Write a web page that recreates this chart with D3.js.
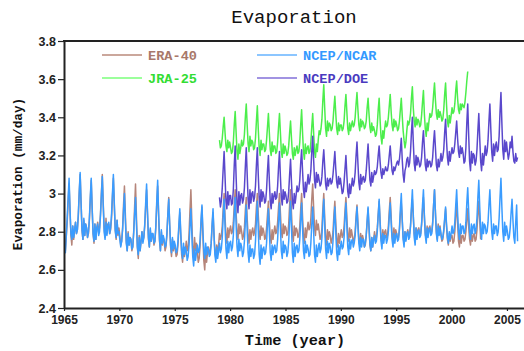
<!DOCTYPE html>
<html>
<head>
<meta charset="utf-8">
<script src="https://cdn.jsdelivr.net/npm/d3@7"></script>
<style>
  html, body { margin: 0; padding: 0; background: #fff; }
  svg { display: block; }
</style>
</head>
<body>
<div id="chart"></div>
<script>
// ---------------- DATA (monthly global-mean evaporation, mm/day) ----------------
const xTicks = [1965, 1970, 1975, 1980, 1985, 1990, 1995, 2000, 2005];
const yTicks = [2.4, 2.6, 2.8, 3.0, 3.2, 3.4, 3.6, 3.8];
const seriesNames = ["ERA-40", "NCEP/NCAR", "JRA-25", "NCEP/DOE"];
const seriesStart = [1965, 1965, 1979, 1979];   // first year (January)

const era40 = [
2.74,2.70,2.78,2.85,2.96,3.05,2.91,2.78,2.73,2.83,2.76,2.81,
2.85,2.79,2.81,2.88,3.00,3.10,2.95,2.81,2.76,2.86,2.78,2.84,
2.82,2.77,2.79,2.86,2.97,3.07,2.92,2.79,2.74,2.84,2.76,2.82,
2.85,2.80,2.82,2.89,3.00,3.10,2.95,2.82,2.77,2.87,2.79,2.84,
2.84,2.79,2.81,2.87,2.98,3.08,2.94,2.81,2.76,2.86,2.78,2.82,
2.78,2.73,2.75,2.82,2.94,3.04,2.89,2.75,2.70,2.80,2.73,2.77,
2.76,2.70,2.72,2.80,2.93,3.05,2.88,2.72,2.66,2.78,2.70,2.75,
2.80,2.75,2.77,2.83,2.93,3.02,2.89,2.76,2.72,2.81,2.75,2.79,
2.78,2.73,2.75,2.82,2.94,3.04,2.89,2.75,2.70,2.80,2.73,2.77,
2.75,2.70,2.72,2.78,2.89,2.98,2.84,2.72,2.67,2.76,2.70,2.74,
2.71,2.67,2.68,2.73,2.82,2.90,2.78,2.68,2.64,2.72,2.67,2.70,
2.75,2.70,2.71,2.79,2.91,3.02,2.86,2.71,2.66,2.77,2.70,2.74,
2.69,2.64,2.66,2.73,2.84,2.93,2.78,2.65,2.60,2.70,2.64,2.69,
2.72,2.68,2.70,2.74,2.83,2.90,2.79,2.70,2.66,2.73,2.68,2.73,
2.79,2.76,2.78,2.83,2.92,3.00,2.88,2.78,2.74,2.82,2.77,2.81,
2.83,2.79,2.80,2.85,2.94,3.02,2.90,2.80,2.76,2.84,2.79,2.83,
2.80,2.76,2.78,2.82,2.91,2.98,2.87,2.78,2.74,2.81,2.76,2.80,
2.82,2.78,2.80,2.84,2.93,3.00,2.89,2.80,2.76,2.83,2.78,2.82,
2.80,2.76,2.77,2.82,2.89,2.96,2.86,2.77,2.74,2.81,2.76,2.80,
2.83,2.79,2.80,2.85,2.93,3.00,2.90,2.80,2.77,2.84,2.79,2.83,
2.82,2.78,2.79,2.84,2.94,3.02,2.90,2.79,2.75,2.83,2.78,2.82,
2.81,2.77,2.78,2.83,2.92,3.00,2.88,2.78,2.74,2.82,2.77,2.81,
2.85,2.81,2.82,2.87,2.97,3.05,2.93,2.82,2.78,2.86,2.81,2.84,
2.80,2.76,2.77,2.82,2.92,3.00,2.88,2.77,2.73,2.81,2.76,2.80,
2.78,2.74,2.76,2.80,2.89,2.96,2.85,2.76,2.72,2.79,2.74,2.78,
2.81,2.77,2.78,2.83,2.91,2.98,2.88,2.78,2.75,2.82,2.77,2.81,
2.78,2.75,2.76,2.80,2.88,2.94,2.85,2.76,2.73,2.79,2.75,2.78,
2.76,2.72,2.73,2.78,2.85,2.92,2.82,2.73,2.70,2.77,2.72,2.76,
2.80,2.76,2.77,2.82,2.89,2.96,2.86,2.77,2.74,2.81,2.76,2.80,
2.81,2.77,2.78,2.83,2.91,2.98,2.88,2.78,2.75,2.82,2.77,2.81,
2.79,2.76,2.77,2.81,2.89,2.95,2.86,2.77,2.74,2.80,2.76,2.79,
2.81,2.78,2.79,2.83,2.91,2.97,2.88,2.79,2.76,2.82,2.78,2.81,
2.82,2.78,2.79,2.84,2.91,2.98,2.88,2.79,2.76,2.83,2.78,2.82,
2.83,2.79,2.80,2.85,2.94,3.02,2.90,2.80,2.76,2.84,2.79,2.83,
2.78,2.75,2.76,2.80,2.86,2.92,2.83,2.76,2.73,2.79,2.75,2.78,
2.78,2.74,2.75,2.80,2.88,2.95,2.85,2.75,2.72,2.79,2.74,2.78,
2.78,2.75,2.76,2.80,2.86,2.92,2.83,2.76,2.73,2.79,2.75,2.78,
2.79,2.75,2.76,2.81,2.89,2.96,2.86,2.76
];

const ncepNcar = [
2.74,2.69,2.78,2.88,2.98,3.08,2.92,2.79,2.76,2.83,2.77,2.81,
2.85,2.79,2.81,2.89,3.01,3.11,2.95,2.81,2.76,2.87,2.78,2.84,
2.82,2.77,2.80,2.87,2.98,3.08,2.93,2.79,2.75,2.84,2.76,2.82,
2.84,2.78,2.80,2.88,2.99,3.09,2.94,2.80,2.76,2.85,2.78,2.83,
2.85,2.79,2.82,2.89,3.00,3.10,2.95,2.81,2.77,2.86,2.79,2.80,
2.76,2.72,2.75,2.81,2.91,3.00,2.86,2.74,2.70,2.79,2.73,2.77,
2.76,2.71,2.72,2.79,2.89,2.98,2.84,2.72,2.68,2.77,2.70,2.75,
2.80,2.74,2.77,2.84,2.95,3.05,2.90,2.77,2.72,2.82,2.75,2.79,
2.79,2.74,2.75,2.83,2.96,3.07,2.90,2.76,2.70,2.81,2.74,2.78,
2.76,2.72,2.73,2.79,2.89,2.97,2.84,2.73,2.69,2.77,2.71,2.75,
2.73,2.69,2.70,2.75,2.84,2.92,2.80,2.70,2.66,2.74,2.68,2.72,
2.70,2.65,2.67,2.73,2.83,2.92,2.79,2.67,2.62,2.71,2.65,2.69,
2.73,2.69,2.70,2.76,2.86,2.94,2.81,2.70,2.66,2.74,2.68,2.72,
2.71,2.67,2.68,2.74,2.84,2.92,2.79,2.68,2.64,2.72,2.66,2.70,
2.74,2.69,2.71,2.77,2.88,2.97,2.83,2.71,2.66,2.75,2.69,2.74,
2.75,2.70,2.72,2.78,2.89,2.98,2.84,2.72,2.67,2.76,2.70,2.74,
2.72,2.67,2.69,2.75,2.85,2.94,2.81,2.69,2.64,2.73,2.67,2.71,
2.71,2.66,2.68,2.75,2.86,2.96,2.81,2.68,2.63,2.73,2.66,2.71,
2.72,2.68,2.69,2.74,2.84,2.92,2.80,2.69,2.65,2.73,2.68,2.72,
2.73,2.69,2.70,2.76,2.86,2.95,2.82,2.70,2.66,2.75,2.69,2.73,
2.72,2.67,2.69,2.75,2.86,2.96,2.82,2.69,2.64,2.74,2.67,2.72,
2.73,2.69,2.70,2.76,2.86,2.95,2.82,2.70,2.66,2.75,2.69,2.73,
2.71,2.67,2.68,2.74,2.84,2.93,2.80,2.68,2.64,2.73,2.67,2.71,
2.74,2.69,2.71,2.77,2.88,2.97,2.83,2.71,2.66,2.75,2.69,2.74,
2.72,2.68,2.69,2.75,2.85,2.93,2.80,2.69,2.65,2.73,2.68,2.72,
2.75,2.71,2.72,2.77,2.87,2.95,2.83,2.72,2.68,2.76,2.71,2.75,
2.76,2.72,2.74,2.78,2.86,2.93,2.83,2.74,2.70,2.77,2.72,2.76,
2.76,2.72,2.74,2.78,2.86,2.93,2.83,2.74,2.70,2.77,2.72,2.76,
2.78,2.74,2.75,2.80,2.89,2.97,2.85,2.75,2.71,2.79,2.74,2.78,
2.78,2.74,2.76,2.80,2.88,2.95,2.85,2.76,2.72,2.79,2.74,2.78,
2.79,2.75,2.76,2.82,2.92,3.00,2.87,2.76,2.72,2.80,2.75,2.79,
2.80,2.76,2.77,2.83,2.93,3.02,2.89,2.77,2.73,2.82,2.76,2.80,
2.81,2.77,2.78,2.84,2.94,3.02,2.89,2.78,2.74,2.82,2.77,2.81,
2.82,2.78,2.79,2.84,2.94,3.02,2.90,2.79,2.75,2.83,2.78,2.82,
2.79,2.76,2.77,2.81,2.87,2.93,2.84,2.77,2.74,2.80,2.76,2.79,
2.83,2.79,2.80,2.85,2.94,3.02,2.90,2.80,2.76,2.84,2.79,2.83,
2.83,2.79,2.80,2.85,2.95,3.03,2.91,2.80,2.76,2.84,2.79,2.83,
2.84,2.79,2.81,2.87,2.98,3.07,2.93,2.81,2.76,2.85,2.79,2.84,
2.83,2.79,2.80,2.85,2.94,3.02,2.90,2.80,2.76,2.84,2.79,2.83,
2.83,2.78,2.80,2.87,2.98,3.08,2.93,2.80,2.75,2.85,2.78,2.83,
2.80,2.76,2.77,2.82,2.90,2.97,2.86,2.77,2.74,2.85,2.94,2.75
];

const jra25 = [
3.28,3.24,3.25,3.29,3.35,3.40,3.32,3.25,3.22,3.28,3.24,3.27,
3.24,3.21,3.22,3.27,3.36,3.43,3.32,3.22,3.18,3.26,3.21,3.24,
3.28,3.25,3.26,3.31,3.40,3.47,3.36,3.26,3.22,3.30,3.25,3.28,
3.27,3.23,3.24,3.29,3.38,3.46,3.34,3.24,3.20,3.28,3.23,3.26,
3.26,3.22,3.23,3.28,3.35,3.42,3.32,3.23,3.20,3.27,3.22,3.25,
3.25,3.21,3.22,3.27,3.35,3.42,3.32,3.22,3.19,3.26,3.21,3.25,
3.23,3.20,3.21,3.25,3.32,3.38,3.29,3.21,3.18,3.24,3.20,3.23,
3.25,3.21,3.22,3.27,3.36,3.44,3.32,3.22,3.18,3.26,3.21,3.24,
3.25,3.21,3.22,3.27,3.35,3.42,3.32,3.22,3.19,3.26,3.22,3.28,
3.33,3.31,3.34,3.39,3.49,3.57,3.45,3.34,3.30,3.38,3.33,3.37,
3.36,3.33,3.34,3.38,3.45,3.51,3.42,3.34,3.31,3.37,3.33,3.36,
3.36,3.33,3.34,3.38,3.46,3.52,3.43,3.34,3.31,3.37,3.33,3.36,
3.38,3.35,3.36,3.40,3.47,3.53,3.44,3.36,3.33,3.39,3.35,3.38,
3.37,3.34,3.35,3.38,3.45,3.50,3.42,3.35,3.32,3.37,3.33,3.35,
3.33,3.30,3.31,3.36,3.44,3.50,3.39,3.30,3.26,3.33,3.29,3.34,
3.38,3.35,3.36,3.40,3.46,3.52,3.43,3.36,3.33,3.39,3.35,3.38,
3.36,3.33,3.34,3.38,3.44,3.50,3.41,3.33,3.28,3.24,3.27,3.33,
3.38,3.36,3.38,3.42,3.50,3.56,3.45,3.38,3.35,3.40,3.36,3.39,
3.38,3.35,3.36,3.41,3.48,3.54,3.42,3.34,3.30,3.37,3.33,3.38,
3.42,3.40,3.41,3.45,3.52,3.58,3.49,3.42,3.39,3.44,3.40,3.43,
3.41,3.38,3.39,3.44,3.52,3.58,3.47,3.38,3.35,3.41,3.37,3.41,
3.45,3.42,3.43,3.47,3.54,3.59,3.50,3.44,3.42,3.47,3.44,3.47,
3.46,3.45,3.48,3.53,3.59,3.64
];

const ncepDoe = [
2.98,2.93,2.96,3.03,3.13,3.22,3.09,2.96,2.92,3.01,2.94,2.99,
2.99,2.94,2.95,3.02,3.15,3.25,3.09,2.95,2.90,3.01,2.94,2.99,
3.00,2.95,2.97,3.03,3.14,3.24,3.10,2.97,2.92,3.02,2.95,3.00,
3.01,2.96,2.98,3.04,3.15,3.24,3.10,2.98,2.93,3.02,2.96,3.01,
2.99,2.95,2.96,3.02,3.12,3.20,3.07,2.96,2.92,3.00,2.95,2.99,
3.01,2.97,2.98,3.04,3.14,3.22,3.09,2.98,2.94,3.02,2.97,3.01,
2.99,2.95,2.96,3.01,3.10,3.18,3.06,2.96,2.92,3.00,2.95,2.99,
3.04,3.01,3.02,3.07,3.16,3.23,3.12,3.02,2.98,3.06,3.01,3.05,
3.10,3.05,3.07,3.12,3.22,3.30,3.18,3.07,3.03,3.11,3.06,3.10,
3.07,3.04,3.05,3.09,3.17,3.23,3.14,3.05,3.02,3.08,3.04,3.07,
3.08,3.05,3.06,3.10,3.16,3.22,3.13,3.06,3.03,3.09,3.05,3.08,
3.04,3.00,3.01,3.06,3.13,3.20,3.10,3.01,2.98,3.05,3.00,3.04,
3.08,3.04,3.06,3.11,3.20,3.27,3.16,3.06,3.02,3.10,3.05,3.08,
3.09,3.06,3.07,3.12,3.19,3.26,3.16,3.07,3.04,3.11,3.06,3.09,
3.12,3.10,3.11,3.14,3.20,3.25,3.17,3.11,3.08,3.13,3.10,3.12,
3.14,3.12,3.12,3.15,3.20,3.25,3.18,3.12,3.10,3.14,3.12,3.14,
3.16,3.17,3.15,3.18,3.23,3.29,3.18,3.10,3.06,3.12,3.14,3.18,
3.19,3.14,3.16,3.22,3.32,3.40,3.27,3.16,3.12,3.20,3.15,3.19,
3.17,3.14,3.15,3.19,3.27,3.33,3.24,3.15,3.12,3.18,3.14,3.17,
3.17,3.14,3.15,3.19,3.27,3.33,3.24,3.15,3.12,3.18,3.14,3.17,
3.21,3.17,3.19,3.23,3.32,3.39,3.28,3.19,3.15,3.22,3.17,3.21,
3.24,3.21,3.22,3.26,3.32,3.38,3.29,3.22,3.19,3.25,3.21,3.24,
3.21,3.16,3.17,3.24,3.37,3.47,3.31,3.17,3.12,3.22,3.16,3.21,
3.20,3.15,3.17,3.23,3.33,3.42,3.29,3.17,3.12,3.21,3.15,3.20,
3.25,3.20,3.22,3.28,3.38,3.47,3.34,3.22,3.17,3.26,3.20,3.25,
3.27,3.22,3.23,3.30,3.43,3.53,3.37,3.23,3.18,3.28,3.22,3.27,
3.22,3.18,3.21,3.27,3.24,3.30,3.22,3.17,3.16,3.21,3.17,3.19
];

const seriesValues = [era40, ncepNcar, jra25, ncepDoe];
const lineColors   = ["#b5857a", "#3a9cff", "#4cee4c", "#5a48cc"];
const legendLine   = ["#cba79c", "#8cc6ff", "#9cff9c", "#a193e2"];
const legendText   = ["#a8786a", "#3399ff", "#33dd33", "#4a3abf"];

// ---------------- CHART ----------------
const W = 524, H = 351;
const mLeft = 64, mRight = 525, mTop = 41, mBottom = 308;

const svg = d3.select("#chart").append("svg")
  .attr("width", W).attr("height", H);

const x = d3.scaleLinear().domain([1965, 2006.63]).range([mLeft, mRight]);
const y = d3.scaleLinear().domain([2.4, 3.8]).range([mBottom, mTop]);

svg.append("defs").append("clipPath").attr("id", "clip")
  .append("rect").attr("x", mLeft).attr("y", mTop).attr("width", mRight - mLeft).attr("height", mBottom - mTop);

// series lines
const drawOrder = [0, 1, 2, 3];
const g = svg.append("g").attr("clip-path", "url(#clip)");
drawOrder.forEach(k => {
  const start = seriesStart[k];
  const line = d3.line()
    .x((d, i) => x(start + (i + 0.5) / 12))
    .y(d => y(d));
  g.append("path")
    .datum(seriesValues[k])
    .attr("fill", "none")
    .attr("stroke", lineColors[k])
    .attr("stroke-width", 1.5)
    .attr("stroke-linejoin", "round")
    .attr("d", line);
});

// axes
const yAxis = d3.axisLeft(y).tickValues(yTicks).tickSizeInner(6).tickSizeOuter(0).tickPadding(2)
  .tickFormat(d => String(+d.toFixed(1)));
const gy = svg.append("g").attr("transform", `translate(${mLeft},0)`).call(yAxis);
gy.select(".domain").attr("stroke", "#222").attr("stroke-width", 2);
gy.selectAll(".tick line").attr("stroke", "#222").attr("stroke-width", 1.2);
gy.selectAll(".tick text").attr("font-family", "Liberation Sans, Arial, sans-serif")
  .attr("font-size", 12.5).attr("font-weight", "bold").attr("fill", "#222");

const xAxis = d3.axisBottom(x).tickValues(xTicks).tickSizeInner(3).tickSizeOuter(0).tickPadding(4)
  .tickFormat(d3.format("d"));
const gx = svg.append("g").attr("transform", `translate(0,${mBottom})`).call(xAxis);
gx.select(".domain").attr("stroke", "#222").attr("stroke-width", 2);
gx.selectAll(".tick line").attr("stroke", "#222").attr("stroke-width", 1.2);
gx.selectAll(".tick text").attr("font-family", "Liberation Sans, Arial, sans-serif")
  .attr("font-size", 12).attr("font-weight", "bold").attr("fill", "#222");

// top frame line
svg.append("line").attr("x1", mLeft - 1).attr("x2", mRight + 2).attr("y1", mTop).attr("y2", mTop)
  .attr("stroke", "#222").attr("stroke-width", 2);

// titles
const mono = "Liberation Mono, 'DejaVu Sans Mono', monospace";
svg.append("text").attr("x", 294).attr("y", 23).attr("text-anchor", "middle")
  .attr("font-family", mono).attr("font-size", 19).attr("fill", "#111")
  .text("Evaporation");
svg.append("text").attr("x", 295).attr("y", 345).attr("text-anchor", "middle")
  .attr("font-family", mono).attr("font-size", 15.2).attr("font-weight", "bold").attr("fill", "#111")
  .text("Time (year)");
svg.append("text").attr("transform", "translate(22,174) rotate(-90)").attr("text-anchor", "middle")
  .attr("font-family", mono).attr("font-size", 12.7).attr("font-weight", "bold").attr("fill", "#111")
  .text("Evaporation (mm/day)");

// legend
const legendPos = [[102, 55], [257, 55], [102, 78], [257, 78]];
seriesNames.forEach((name, k) => {
  const [lx, ly] = legendPos[k];
  svg.append("line").attr("x1", lx).attr("x2", lx + 40).attr("y1", ly).attr("y2", ly)
    .attr("stroke", legendLine[k]).attr("stroke-width", 1.8);
  svg.append("text").attr("x", lx + 46).attr("y", ly + 4.5)
    .attr("font-family", mono).attr("font-size", 13.6).attr("font-weight", "bold")
    .attr("fill", legendText[k]).text(name);
});
</script>
</body>
</html>
